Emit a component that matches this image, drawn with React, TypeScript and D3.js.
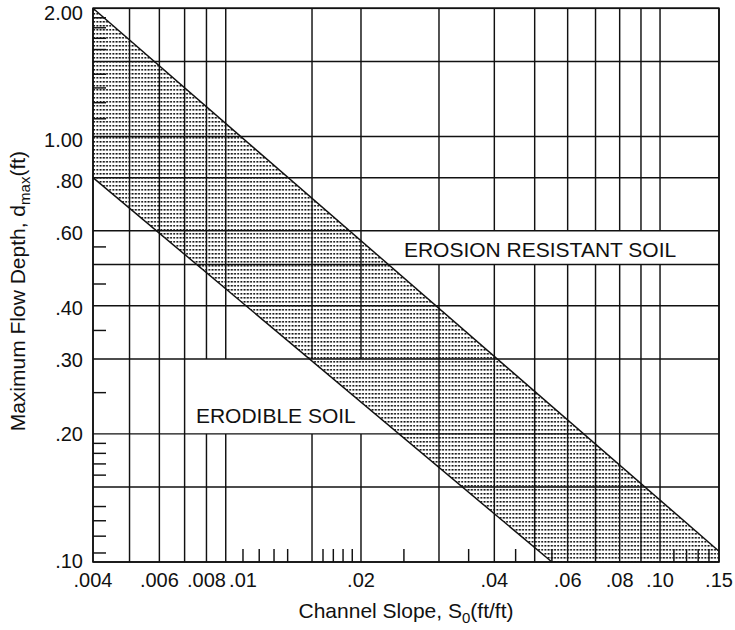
import React from 'react';
import * as d3 from 'd3';

// ---------- data ----------
// slope values (ft/ft) with full-height grid lines
const slopeGrid = [0.004, 0.005, 0.006, 0.007, 0.008, 0.009, 0.015, 0.02, 0.03, 0.04, 0.05, 0.06, 0.07, 0.08, 0.09, 0.1, 0.15];
// slope values with short ticks only
const slopeTicks = [0.01, 0.011, 0.012, 0.013, 0.016, 0.017, 0.018, 0.019, 0.025, 0.035, 0.045, 0.055, 0.11, 0.12, 0.13, 0.14];
const slopeLabelValues = [0.004, 0.006, 0.008, 0.01, 0.02, 0.04, 0.06, 0.08, 0.1, 0.15];
const slopeLabelTexts = ['.004', '.006', '.008', '.01', '.02', '.04', '.06', '.08', '.10', '.15'];

// depth values (ft) with full-width grid lines
const depthGrid = [2.0, 1.5, 1.0, 0.8, 0.6, 0.5, 0.4, 0.3, 0.2, 0.15, 0.1];
// depth values with short ticks only
const depthTicks = [1.9, 1.8, 1.7, 1.6, 1.4, 1.3, 1.2, 1.1, 0.55, 0.45, 0.35, 0.25, 0.19, 0.18, 0.17, 0.16, 0.135, 0.125, 0.115, 0.105];
const depthLabelValues = [2.0, 1.0, 0.8, 0.6, 0.4, 0.3, 0.2, 0.1];
const depthLabelTexts = ['2.00', '1.00', '.80', '.60', '.40', '.30', '.20', '.10'];

// boundary lines of the shaded band [slope, depth]
const upperLimit: [number, number][] = [[0.004, 2.0], [0.15, 0.106]];
const lowerLimit: [number, number][] = [[0.004, 0.8], [0.055, 0.1]];

// the printed slope axis is not exactly logarithmic: calibrate at labelled ticks
const slopeAnchors = [0.004, 0.01, 0.02, 0.04, 0.1, 0.15];
const slopeAnchorFrac = [0, 0.2396, 0.4281, 0.6411, 0.9058, 1];

// region labels (slope = left edge of text, depth = baseline)
const regionLabels = [
  { text: 'EROSION RESISTANT SOIL', slope: 0.025, depth: 0.52, dHigh: 0.6, dLow: 0.5, gapSlopes: [0.03, 0.04, 0.05, 0.06, 0.07, 0.08, 0.09, 0.1] },
  { text: 'ERODIBLE SOIL', slope: 0.0075, depth: 0.212, dHigh: 0.3, dLow: 0.2, gapSlopes: [0.008, 0.009, 0.015, 0.02] },
];

// ---------- layout ----------
const W = 735;
const H = 630;
const L = 93;
const R = 719;
const T = 8.3;
const B = 562;
const FONT = '"Liberation Sans", Arial, Helvetica, sans-serif';
const INK = '#111';
const SW = 1.45;

export default function App() {
  const iw = R - L;
  const x = d3.scaleLog().domain(slopeAnchors).range(slopeAnchorFrac.map((f) => L + f * iw));
  const y = d3.scaleLog().domain([0.1, 2.0]).range([B, T]);

  const line = d3.line<[number, number]>().x((d) => x(d[0])).y((d) => y(d[1]));
  const band: [number, number][] = [
    upperLimit[0],
    upperLimit[1],
    [0.15, 0.1],
    lowerLimit[1],
    lowerLimit[0],
  ];
  const bandPath = line(band) + 'Z';

  // vertical grid segments with gaps behind region labels
  const vSegs: { x: number; y1: number; y2: number }[] = [];
  slopeGrid.forEach((s) => {
    const gaps = regionLabels.filter((r) => r.gapSlopes.includes(s)).map((r) => [y(r.dHigh), y(r.dLow)]);
    gaps.sort((a, b) => a[0] - b[0]);
    let start = T;
    gaps.forEach(([g1, g2]) => {
      vSegs.push({ x: x(s), y1: start, y2: g1 });
      start = g2;
    });
    vSegs.push({ x: x(s), y1: start, y2: B });
  });

  // printed labels sit a little lower at the top of the axis than at the bottom
  const labelDy = (py: number) => 12 - (6 * (py - T)) / (B - T);

  return (
    <svg width={W} height={H} style={{ position: 'absolute', left: 0, top: 0, background: '#fff' }}>
      <defs>
        <pattern id="dots" width={3.2} height={4} patternUnits="userSpaceOnUse">
          <rect x={0.4} y={1} width={1.9} height={1.6} fill="#111" />
        </pattern>
        <clipPath id="plot">
          <rect x={L} y={T} width={R - L} height={B - T} />
        </clipPath>
      </defs>

      <g clipPath="url(#plot)">
        <path d={bandPath} fill="url(#dots)" stroke="none" />
      </g>

      {/* horizontal grid */}
      {depthGrid.map((d) => (
        <line key={'h' + d} x1={L} x2={R} y1={y(d)} y2={y(d)} stroke={INK} strokeWidth={SW} />
      ))}
      {/* vertical grid */}
      {vSegs.map((s, i) => (
        <line key={'v' + i} x1={s.x} x2={s.x} y1={s.y1} y2={s.y2} stroke={INK} strokeWidth={SW} />
      ))}
      {/* short ticks */}
      {depthTicks.map((d) => (
        <line key={'dt' + d} x1={L} x2={L + 13} y1={y(d)} y2={y(d)} stroke={INK} strokeWidth={SW} />
      ))}
      {slopeTicks.map((s) => (
        <line key={'st' + s} x1={x(s)} x2={x(s)} y1={B} y2={B - 13} stroke={INK} strokeWidth={SW} />
      ))}

      {/* boundary lines */}
      <path d={line(upperLimit) || ''} fill="none" stroke={INK} strokeWidth={SW} />
      <path d={line(lowerLimit) || ''} fill="none" stroke={INK} strokeWidth={SW} />

      {/* frame */}
      <rect x={L} y={T} width={R - L} height={B - T} fill="none" stroke={INK} strokeWidth={1.6} />

      {/* region labels */}
      {regionLabels.map((r) => (
        <text key={r.text} x={x(r.slope)} y={y(r.depth)} fontFamily={FONT} fontSize={21} fill="#111">
          {r.text}
        </text>
      ))}

      {/* y tick labels */}
      {depthLabelValues.map((d, i) => (
        <text
          key={'dl' + d}
          x={L - 10}
          y={y(d) + labelDy(y(d))}
          textAnchor="end"
          fontFamily={FONT}
          fontSize={20}
          fill="#111"
        >
          {depthLabelTexts[i]}
        </text>
      ))}
      {/* x tick labels */}
      {slopeLabelValues.map((s, i) => (
        <text key={'sl' + s} x={x(s)} y={B + 25} textAnchor="middle" fontFamily={FONT} fontSize={20} fill="#111">
          {slopeLabelTexts[i]}
        </text>
      ))}

      {/* axis titles */}
      <text x={(L + R) / 2} y={618} textAnchor="middle" fontFamily={FONT} fontSize={21} fill="#111">
        Channel Slope, S<tspan fontSize={15} dy={5}>0</tspan>
        <tspan dy={-5}>(ft/ft)</tspan>
      </text>
      <text
        transform={`translate(25, ${(T + B) / 2 + 6}) rotate(-90)`}
        textAnchor="middle"
        fontFamily={FONT}
        fontSize={21}
        fill="#111"
      >
        Maximum Flow Depth, d<tspan fontSize={15} dy={5}>max</tspan>
        <tspan dy={-5}>(ft)</tspan>
      </text>
    </svg>
  );
}
